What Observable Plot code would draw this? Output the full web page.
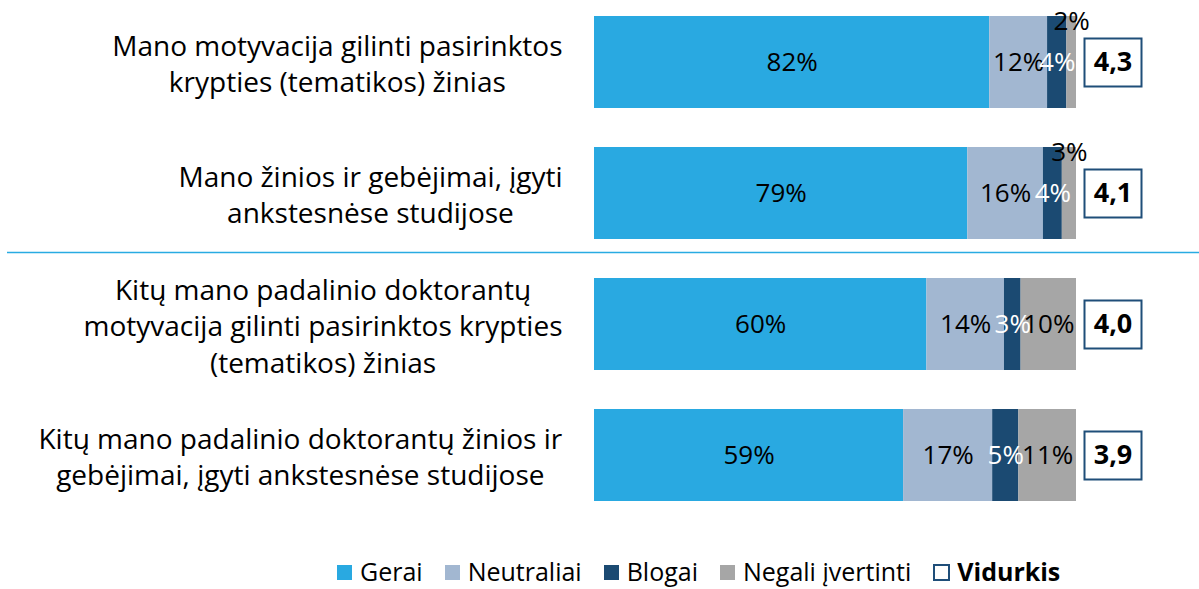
<!DOCTYPE html>
<html>
<head>
<meta charset="utf-8">
<script src="https://cdn.jsdelivr.net/npm/d3@7"></script>
<script src="https://cdn.jsdelivr.net/npm/@observablehq/plot@0.6"></script>
<style>
  html, body { margin: 0; padding: 0; background: #fff; }
  #wrap { position: relative; width: 1199px; height: 589px; font-family: "Open Sans", "Noto Sans", sans-serif; font-variant-ligatures: none; }
  #chart svg { font-variant-ligatures: none; }
  #legend { position: absolute; left: 337px; top: 555px; display: flex; align-items: center; font-size: 25px; color: #000; white-space: nowrap; line-height: 32px; }
  .item { display: flex; align-items: center; margin-right: 22px; }
  .sw { width: 15px; height: 15px; margin-right: 8px; margin-top: 3px; }
  .box { width: 13px; height: 13px; border: 2px solid #1f4e79; margin-right: 7px; margin-top: 3px; }
</style>
</head>
<body>
<div id="wrap">
  <div id="chart"></div>
  <div id="legend"></div>
</div>
<script>
const categories = [
  "Mano motyvacija gilinti pasirinktos\nkrypties (tematikos) žinias",
  "Mano žinios ir gebėjimai, įgyti\nankstesnėse studijose",
  "Kitų mano padalinio doktorantų\nmotyvacija gilinti pasirinktos krypties\n(tematikos) žinias",
  "Kitų mano padalinio doktorantų žinios ir\ngebėjimai, įgyti ankstesnėse studijose"
];
const seriesNames = ["Gerai", "Neutraliai", "Blogai", "Negali įvertinti"];
const seriesColors = ["#29a9e1", "#a2b7d1", "#1b4a72", "#a6a6a6"];
const gerai = [82, 79, 60, 59];
const neutraliai = [12, 16, 14, 17];
const blogai = [4, 4, 3, 5];
const negali = [2, 3, 10, 11];
const vidurkis = [4.3, 4.1, 4.0, 3.9];
const meanLabel = "Vidurkis";

const seriesValues = [gerai, neutraliai, blogai, negali];
const table = [];
categories.forEach((cat, i) => {
  seriesNames.forEach((s, j) => table.push({cat, series: s, value: seriesValues[j][i]}));
});
const means = categories.map((cat, i) => ({cat, mean: vidurkis[i]}));

const boxSymbol = { draw(ctx) { ctx.rect(-28.5, -24, 57, 48); } };
const stackOpts = {x: "value", y: "cat", z: "series", offset: "normalize", order: seriesNames};
const isSmallNegali = d => d.series === "Negali įvertinti" && d.value < 5;
const FS = 26;

const chart = Plot.plot({
  width: 1199,
  height: 548,
  marginLeft: 594,
  marginRight: 123,
  marginTop: 16,
  marginBottom: 47,
  style: {fontFamily: "'Open Sans', 'Noto Sans', sans-serif", background: "#fff", overflow: "visible"},
  x: {domain: [0, 1], axis: null},
  y: {domain: categories, axis: null, paddingInner: 0.3, paddingOuter: 0},
  color: {domain: seriesNames, range: seriesColors},
  marks: [
    Plot.barX(table, Plot.stackX({...stackOpts, fill: "series"})),
    Plot.text(table, Plot.stackX({...stackOpts,
      text: d => (d.series === "Blogai" || isSmallNegali(d)) ? null : `${d.value}%`,
      fill: "#000", fontSize: FS})),
    Plot.text(table, Plot.stackX({...stackOpts,
      text: d => d.series === "Blogai" ? `${d.value}%` : null,
      fill: "#fff", fontSize: FS})),
    Plot.text(table, Plot.stackX({...stackOpts,
      text: d => isSmallNegali(d) ? `${d.value}%` : null,
      fill: "#000", fontSize: FS, dy: -41})),
    Plot.text(categories, {y: d => d, text: d => d, frameAnchor: "left", dx: -32,
      textAnchor: "end", lineAnchor: "middle", lineHeight: 1.3, fontSize: 28, fill: "#000"}),
    Plot.dot(means, {y: "cat", frameAnchor: "right", dx: 36.5, symbol: boxSymbol,
      fill: "#fff", stroke: "#1f4e79", strokeWidth: 2}),
    Plot.text(means, {y: "cat", frameAnchor: "right", dx: 36.5, textAnchor: "middle",
      text: d => d.mean.toFixed(1).replace(".", ","), fontSize: 27, fontWeight: "bold", fill: "#000"}),
    Plot.ruleY([categories[2]], {stroke: "#29abe2", strokeWidth: 1.5, dy: -72,
      insetLeft: -587, insetRight: -123})
  ]
});
document.getElementById("chart").appendChild(chart);

// center each multi-line category label within its own width (block right-aligned)
const flatCats = categories.map(c => c.replace(/\n/g, ""));
chart.querySelectorAll("text").forEach(t => {
  if (!flatCats.includes(t.textContent)) return;
  const w = t.getBBox().width;
  t.setAttribute("text-anchor", "middle");
  t.style.textAnchor = "middle";
  t.setAttribute("transform", (t.getAttribute("transform") || "") + ` translate(${-w / 2},0)`);
});

// legend
const legend = document.getElementById("legend");
seriesNames.forEach((s, i) => {
  const it = document.createElement("div");
  it.className = "item";
  it.innerHTML = `<span class="sw" style="background:${seriesColors[i]}"></span><span>${s}</span>`;
  legend.appendChild(it);
});
const mi = document.createElement("div");
mi.className = "item";
mi.innerHTML = `<span class="box"></span><span style="font-weight:bold">${meanLabel}</span>`;
legend.appendChild(mi);
</script>
</body>
</html>
